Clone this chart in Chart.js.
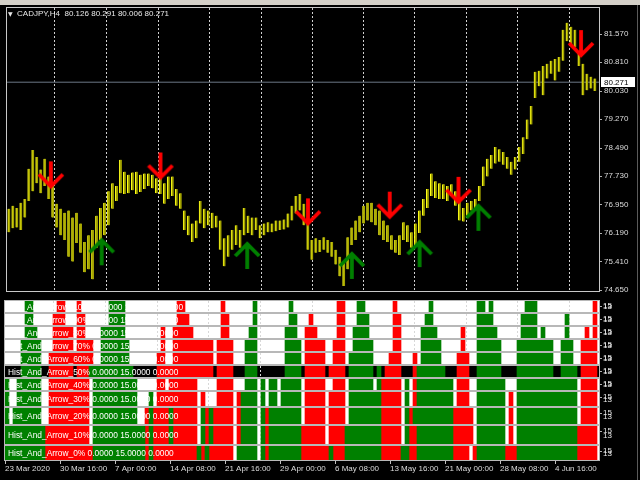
<!DOCTYPE html>
<html><head><meta charset="utf-8">
<script src="https://cdn.jsdelivr.net/npm/chart.js@4.4.0/dist/chart.umd.min.js"></script>
<style>
html,body{margin:0;padding:0;background:#000;width:640px;height:480px;overflow:hidden;position:relative;}
#topbar{position:absolute;left:0;top:0;width:640px;height:5px;background:#d4d0c8;}
#rline{position:absolute;left:637px;top:5px;width:1px;height:475px;background:#5a5a5a;}
canvas{position:absolute;left:0;}
#title{position:absolute;left:8px;top:10px;color:#e8e8e8;font:8px "Liberation Sans",Arial,sans-serif;line-height:8px;white-space:pre;}
#title .tri{font-size:6px;font-family:"DejaVu Sans",sans-serif;}
</style></head><body>
<div id="topbar"></div>
<div id="rline"></div>
<canvas id="price" width="640" height="298" style="top:0"></canvas>
<div id="title"><span class="tri">▼</span>  CADJPY,H4  80.126 80.291 80.006 80.271</div>
<script>
// ---------- data ----------
const priceHigh = [76.85,76.93,76.87,77.01,77.11,77.93,78.44,78.25,77.91,78.20,
77.72,77.54,76.98,76.85,76.74,76.80,76.61,76.74,76.45,75.95,
76.13,76.27,76.66,76.87,77.01,77.32,77.54,77.46,78.17,77.85,
77.77,77.83,77.85,77.77,77.80,77.80,77.77,77.67,77.72,77.54,
77.72,77.72,77.38,77.27,76.80,76.66,76.45,76.53,77.06,76.85,
76.80,76.74,76.66,76.53,76.05,76.13,76.27,76.40,76.27,76.87,
76.66,76.61,76.61,76.40,76.45,76.48,76.45,76.53,76.53,76.56,
76.72,76.93,77.19,77.25,76.98,76.53,76.00,76.05,76.00,76.08,
76.00,75.95,75.74,75.55,75.39,76.08,76.34,76.53,76.66,76.93,
77.01,77.01,76.85,76.80,76.53,76.40,76.13,76.00,76.13,76.48,
76.40,76.21,76.45,76.80,77.11,77.38,77.80,77.59,77.54,77.51,
77.46,77.51,77.32,77.06,76.87,77.01,77.06,77.11,77.46,77.99,
78.20,78.30,78.52,78.46,78.38,78.25,78.12,78.25,78.52,78.78,
79.26,79.63,80.55,80.58,80.71,80.77,80.85,80.90,80.95,81.69,
81.88,81.77,81.69,81.11,80.77,80.50,80.42,80.37];
const priceLow = [76.21,76.32,76.34,76.27,76.61,77.06,77.32,77.54,77.27,77.46,
77.11,76.61,76.34,76.13,76.00,75.55,75.42,75.92,75.66,75.13,
75.21,74.94,75.79,76.00,76.13,76.40,76.85,77.06,77.27,77.25,
77.27,77.35,77.25,77.30,77.38,77.46,77.40,77.27,77.25,76.98,
77.11,77.19,76.93,76.85,76.27,76.13,75.95,76.05,76.45,76.32,
76.40,76.32,76.34,75.74,75.29,75.55,75.74,75.87,75.79,76.13,
76.19,76.13,76.27,76.05,76.13,76.21,76.21,76.24,76.27,76.29,
76.34,76.53,76.72,76.80,76.40,75.74,75.47,75.66,75.68,75.74,
75.66,75.55,75.34,75.02,74.76,75.21,75.87,76.00,76.21,76.45,
76.53,76.48,76.40,76.13,76.00,75.95,75.74,75.66,75.60,76.00,
75.95,75.79,75.87,76.19,76.66,76.87,77.19,77.14,77.11,77.11,
77.06,77.19,76.93,76.53,76.50,76.66,76.80,76.85,77.06,77.46,
77.72,77.93,78.07,78.12,78.04,77.93,77.77,77.91,78.12,78.33,
78.73,79.13,79.84,80.16,79.92,80.37,80.50,80.32,80.55,80.85,
81.38,81.30,81.22,80.71,79.92,80.05,80.10,80.03];
const lastPrice = 80.271;
const priceTicks = [74.65,75.41,76.19,76.95,77.73,78.49,79.27,80.03,80.81,81.57];
const gridPos = [11.5,24.5,37.5,50.25,63.25,76.25,89,101.75,114.75,127.5,140.5];
const dateLabels = ['23 Mar 2020','30 Mar 16:00','7 Apr 00:00','14 Apr 08:00','21 Apr 16:00','29 Apr 00:00','6 May 08:00','13 May 16:00','21 May 00:00','28 May 08:00','4 Jun 16:00'];
const dateTickPos = [-0.5,13.25,27,40.75,54.5,68.25,82,95.75,109.5,123.25,137];
const sellArrowX = [10.5,38,75,95.5,112.75,143.5];
const sellArrowY = [77.40,77.64,76.40,76.58,76.98,80.95];
const buyArrowX = [23.25,59.75,86,103,117.75];
const buyArrowY = [76.05,75.95,75.68,76.00,76.98];
const histLevels = [100,90,80,70,60,50,40,30,20,10,0];
const histTickLabels = ['15','13'];
const hist100 = [['G',5,6],['R',13,14],['R',18,18],['G',26,27],['G',28,29],['R',43,44],['R',54,54],['G',62,62],['G',71,71],['R',83,84],['G',88,89],['R',97,97],['G',106,106],['G',118,119],['G',121,121],['G',130,132],['R',147,147]];
const hist90 = [['G',5,6],['R',12,14],['R',18,19],['G',26,29],['R',43,45],['R',54,55],['G',62,62],['G',71,72],['R',76,76],['R',83,84],['G',88,90],['R',97,98],['G',105,106],['G',118,121],['G',129,132],['G',140,140],['R',147,147]];
const hist80 = [['G',5,7],['R',12,15],['R',16,16],['R',18,19],['G',24,29],['R',39,39],['R',42,46],['R',54,55],['G',61,62],['G',70,72],['R',75,77],['R',83,84],['G',87,90],['R',97,98],['G',104,107],['R',114,114],['G',118,122],['G',129,132],['G',134,134],['G',140,140],['R',145,145],['R',147,147]];
const hist70 = [['G',4,8],['R',12,16],['R',18,21],['G',24,30],['R',39,39],['R',42,51],['R',53,56],['G',60,62],['G',70,73],['R',75,79],['R',82,84],['G',87,91],['R',97,98],['G',104,108],['R',114,114],['G',118,123],['G',128,136],['G',139,141],['R',144,147]];
const hist60 = [['G',4,8],['R',11,21],['G',24,30],['R',38,39],['R',42,51],['R',53,56],['G',60,62],['G',70,73],['R',75,79],['R',82,84],['G',86,91],['R',96,98],['R',102,102],['G',104,108],['R',113,115],['G',118,123],['G',128,136],['G',139,141],['R',144,147]];
const hist50 = [['G',4,8],['R',11,16],['R',18,20],['G',21,31],['R',38,51],['R',53,56],['G',60,62],['G',70,73],['R',75,79],['R',81,84],['G',86,91],['G',93,93],['R',95,98],['R',102,102],['G',103,109],['R',113,115],['G',118,123],['G',128,136],['G',139,142],['R',144,147]];
const hist40 = [['G',0,0],['G',3,8],['R',11,20],['G',22,32],['R',38,39],['R',41,47],['R',53,56],['G',60,62],['G',64,64],['G',66,67],['G',69,73],['R',75,79],['R',82,82],['R',83,84],['G',86,91],['G',93,93],['R',94,94],['R',95,98],['G',100,100],['R',102,102],['G',103,111],['R',113,115],['G',118,124],['G',128,142],['R',144,147]];
const hist30 = [['G',0,0],['G',3,8],['R',11,20],['G',22,32],['G',36,36],['R',38,40],['R',41,47],['R',49,49],['R',53,56],['R',58,58],['G',59,62],['G',64,64],['G',66,67],['G',69,73],['R',75,79],['R',81,84],['G',86,93],['R',94,98],['G',100,100],['R',102,102],['G',103,111],['R',113,115],['G',118,124],['R',126,126],['G',128,142],['R',144,147]];
const hist20 = [['G',0,0],['G',2,8],['R',11,20],['G',22,32],['R',35,35],['G',36,36],['R',37,40],['G',41,41],['R',42,47],['G',49,49],['R',50,50],['G',51,51],['R',52,56],['R',58,58],['G',59,62],['G',64,64],['R',65,65],['G',66,73],['R',75,79],['R',81,84],['G',86,93],['R',94,98],['G',100,100],['R',101,101],['G',102,111],['R',112,116],['G',118,124],['R',126,126],['G',128,142],['R',144,147]];
const hist10 = [['G',0,9],['R',10,20],['G',22,34],['R',35,35],['G',36,36],['R',37,40],['G',41,41],['R',42,47],['G',49,49],['R',50,50],['G',51,51],['R',52,56],['R',58,58],['G',59,62],['G',64,64],['R',65,65],['G',66,73],['R',74,79],['R',81,84],['G',85,93],['R',94,98],['G',100,100],['R',101,102],['G',103,111],['R',112,116],['G',118,124],['R',126,126],['G',128,142],['R',143,147]];
const hist0 = [['G',0,9],['R',10,21],['G',22,34],['R',35,35],['G',36,36],['R',37,47],['G',48,48],['R',49,49],['G',50,50],['R',51,56],['G',58,62],['G',64,64],['R',65,65],['G',66,73],['R',74,80],['G',81,81],['R',82,84],['G',85,93],['R',94,98],['G',99,100],['R',101,102],['G',103,111],['R',112,115],['R',117,117],['G',118,124],['R',125,127],['G',128,142],['R',143,147]];
const histRows = [hist100,hist90,hist80,hist70,hist60,hist50,hist40,hist30,hist20,hist10,hist0];

// ---------- layout / style ----------
const panelBoxes = [[301,11],[314,11],[327,11],[340,11],[353,11],[366,11],[379,11],[392,14],[408,16],[426,18],[446,14]];
const X_MIN = -0.5, X_MAX = 148;
const FONT = '"Liberation Sans", Arial, sans-serif';
Chart.defaults.font.family = FONT;
Chart.defaults.font.size = 8;
Chart.defaults.color = '#dcdcdc';

function makeArrow(color, down) {
  const c = document.createElement('canvas');
  c.width = 28; c.height = 56;
  const g = c.getContext('2d');
  g.strokeStyle = color; g.lineWidth = 3.8; g.lineJoin = 'miter'; g.lineCap = 'butt';
  const cx = 14, tip = 28;
  g.beginPath();
  if (down) {
    g.moveTo(cx, tip - 27); g.lineTo(cx, tip - 2);
    g.moveTo(2, tip - 14); g.lineTo(cx, tip - 2); g.lineTo(26, tip - 14);
  } else {
    g.moveTo(cx, tip + 27); g.lineTo(cx, tip + 2);
    g.moveTo(2, tip + 14); g.lineTo(cx, tip + 2); g.lineTo(26, tip + 14);
  }
  g.stroke();
  return c;
}
const redArrow = makeArrow('#ff0000', true);
const greenArrow = makeArrow('#008000', false);

const framePlugin = {
  id: 'frame',
  beforeDraw(chart, args, o) {
    const a = chart.chartArea, ctx = chart.ctx;
    if (o.bg) { ctx.save(); ctx.fillStyle = o.bg; ctx.fillRect(a.left, a.top, a.right - a.left, a.bottom - a.top); ctx.restore(); }
  },
  afterDraw(chart, args, o) {
    const a = chart.chartArea, ctx = chart.ctx;
    ctx.save(); ctx.strokeStyle = o.color || '#c0c0c0'; ctx.lineWidth = 1;
    ctx.strokeRect(a.left - 0.5, a.top - 0.5, a.right - a.left + 1, a.bottom - a.top + 1);
    ctx.restore();
  }
};

const bidTag = {
  id: 'bidTag',
  afterDraw(chart) {
    const y = Math.round(chart.scales.y.getPixelForValue(lastPrice));
    const x = chart.chartArea.right + 2, ctx = chart.ctx;
    ctx.save();
    ctx.fillStyle = '#ffffff'; ctx.fillRect(x, y - 5, 34, 10);
    ctx.fillStyle = '#000000'; ctx.font = '8px ' + FONT; ctx.textBaseline = 'middle';
    ctx.fillText(lastPrice.toFixed(3), x + 3, y + 0.5);
    ctx.restore();
  }
};

const panelText = {
  id: 'panelText',
  afterDatasetsDraw(chart, args, o) {
    const a = chart.chartArea, ctx = chart.ctx;
    ctx.save();
    ctx.beginPath(); ctx.rect(a.left, a.top, a.right - a.left, a.bottom - a.top); ctx.clip();
    ctx.fillStyle = '#ffffff'; ctx.font = '8.4px ' + FONT; ctx.textBaseline = 'alphabetic';
    ctx.fillText(o.text, a.left + 3, (a.top + a.bottom) / 2 + 3);
    ctx.restore();
    ctx.save();
    ctx.font = '8px ' + FONT; ctx.textBaseline = 'middle'; ctx.fillStyle = '#e8e8e8';
    const h = a.bottom - a.top, gap = Math.max(1, (h - 9) * 0.5);
    o.ticks.slice().reverse().forEach((t, j) => {
      const k = o.ticks.length - 1 - j;
      ctx.fillText(t, a.right + 4, a.top + 5 + k * gap);
    });
    ctx.strokeStyle = '#b0b0b0'; ctx.beginPath(); ctx.moveTo(a.right, a.top + 5.5); ctx.lineTo(a.right + 3, a.top + 5.5); ctx.stroke();
    ctx.restore();
  }
};

function gridAxis() {
  return {
    type: 'linear', min: X_MIN, max: X_MAX, offset: false,
    afterBuildTicks: s => { s.ticks = gridPos.map(v => ({ value: v })); },
    ticks: { display: false },
    grid: { color: '#d8d8d8', drawTicks: false, offset: false },
    border: { display: false, dash: [2, 2] },
    afterFit: s => { s.height = 0; s.paddingLeft = 0; s.paddingRight = 0; }
  };
}

// ---------- price chart ----------
new Chart(document.getElementById('price'), {
  type: 'bar',
  data: {
    datasets: [
      { type: 'line', data: [{ x: X_MIN, y: lastPrice }, { x: X_MAX, y: lastPrice }], borderColor: '#6c7886', borderWidth: 1, pointRadius: 0, order: 3 },
      { type: 'bar', data: priceLow.map((l, i) => ({ x: i, y: [l, priceHigh[i]] })), backgroundColor: '#a4a400', borderColor: '#ffff1a', borderWidth: { left: 1, right: 0, top: 0, bottom: 0 }, borderSkipped: false, barThickness: 2.5, order: 2 },
      { type: 'scatter', data: sellArrowX.map((x, i) => ({ x, y: sellArrowY[i] })), pointStyle: redArrow, pointRadius: 6, order: 1 },
      { type: 'scatter', data: buyArrowX.map((x, i) => ({ x, y: buyArrowY[i] })), pointStyle: greenArrow, pointRadius: 6, order: 1 }
    ]
  },
  options: {
    animation: false, responsive: false,
    layout: { padding: { left: 5, top: 8, bottom: 1, right: 0 } },
    plugins: { legend: { display: false }, tooltip: { enabled: false }, frame: { color: '#c8c8c8' } },
    scales: {
      x: Object.assign(gridAxis(), { grid: { color: '#d0d0d0', drawTicks: false, offset: false } }),
      y: {
        position: 'right', min: 74.6235, max: 82.2775,
        afterBuildTicks: s => { s.ticks = priceTicks.map(v => ({ value: v })); },
        ticks: { callback: v => Number(v).toFixed(3), color: '#dcdcdc', padding: 2, autoSkip: false, font: { size: 8 } },
        grid: { drawOnChartArea: false, drawTicks: true, tickLength: 3, tickColor: '#b0b0b0' },
        border: { display: false },
        afterFit: s => { s.width = 41; }
      }
    }
  },
  plugins: [framePlugin, bidTag]
});

// ---------- indicator panels ----------
panelBoxes.forEach(([top, h], k) => {
  const last = k === panelBoxes.length - 1;
  const cv = document.createElement('canvas');
  const ch = last ? 480 - (top - 1) : h + 2;
  cv.width = 640; cv.height = ch; cv.style.top = (top - 1) + 'px';
  document.body.appendChild(cv);
  const rows = histRows[k];
  const segs = c => rows.filter(s => s[0] === c).map(s => ({ y: 'h', x: [s[1] - 0.5, s[2] + 0.5] }));
  const scales = {
    x: gridAxis(),
    y: { type: 'category', display: false, offset: true }
  };
  if (last) {
    scales.xd = {
      type: 'linear', position: 'bottom', min: X_MIN, max: X_MAX, offset: false,
      afterBuildTicks: s => { s.ticks = dateTickPos.map(v => ({ value: v })); },
      ticks: { callback: (v, i) => dateLabels[i], align: 'start', autoSkip: false, maxRotation: 0, minRotation: 0, padding: 0, color: '#dcdcdc', font: { size: 8 } },
      grid: { drawOnChartArea: false, drawTicks: true, tickLength: 4, tickColor: '#c0c0c0' },
      border: { display: false },
      afterFit: s => { s.height = ch - 1 - h; s.paddingLeft = 0; s.paddingRight = 0; }
    };
  }
  new Chart(cv, {
    type: 'bar',
    data: {
      labels: ['h'],
      datasets: [
        { data: segs('G'), backgroundColor: '#008000', grouped: false, categoryPercentage: 1, barPercentage: 1 },
        { data: segs('R'), backgroundColor: '#ff0000', grouped: false, categoryPercentage: 1, barPercentage: 1 }
      ]
    },
    options: {
      indexAxis: 'y', animation: false, responsive: false,
      layout: { padding: { left: 5, right: 41, top: 1, bottom: last ? 0 : 1 } },
      plugins: {
        legend: { display: false }, tooltip: { enabled: false },
        frame: { bg: histLevels[k] === 50 ? '#000000' : '#ffffff', color: '#b8b8b8' },
        panelText: { text: 'Hist_And_Arrow_' + histLevels[k] + '% 0.0000 15.0000 0.0000', ticks: histTickLabels }
      },
      scales
    },
    plugins: [framePlugin, panelText]
  });
});
</script>
</body></html>
